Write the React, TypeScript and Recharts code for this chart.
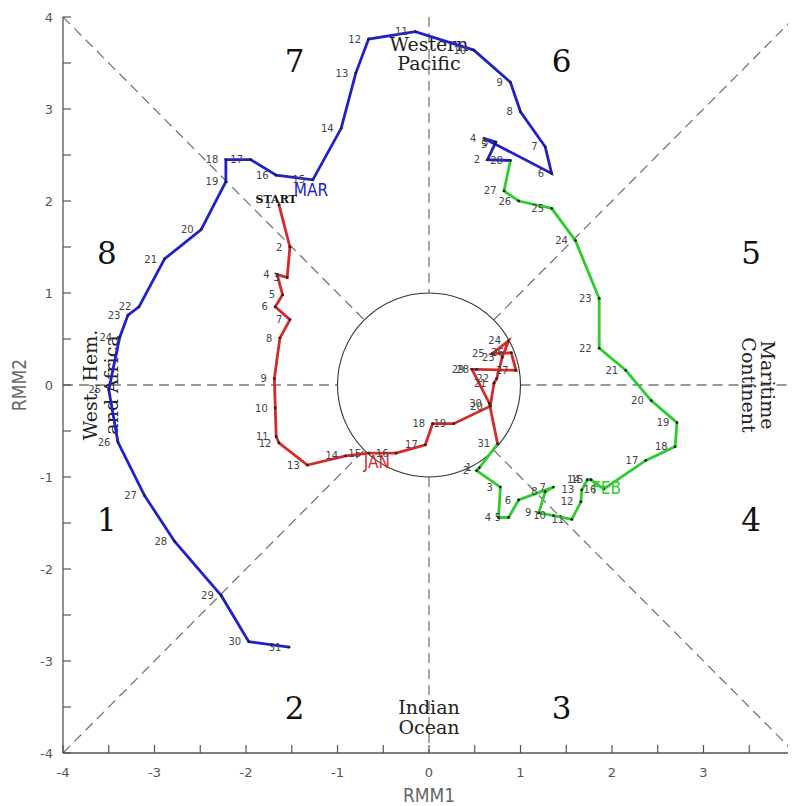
import React from "react";
import {
  ScatterChart,
  Scatter,
  XAxis,
  YAxis,
  ReferenceLine,
  ReferenceDot,
  LabelList,
} from "recharts";

// RMM1 / RMM2 daily values
const janRmm1 = [-1.64, -1.52, -1.55, -1.66, -1.6, -1.68, -1.52, -1.63, -1.69, -1.68, -1.67, -1.64, -1.33, -0.91, -0.66, -0.36, -0.04, 0.04, 0.27, 0.67, 0.71, 0.74, 0.8, 0.87, 0.69, 0.9, 0.95, 0.52, 0.47, 0.66, 0.75];
const janRmm2 = [1.96, 1.5, 1.17, 1.2, 0.98, 0.85, 0.71, 0.51, 0.07, -0.25, -0.56, -0.63, -0.87, -0.77, -0.74, -0.74, -0.65, -0.42, -0.42, -0.23, 0.02, 0.07, 0.3, 0.48, 0.34, 0.35, 0.16, 0.17, 0.17, -0.2, -0.64];

const febRmm1 = [0.55, 0.52, 0.78, 0.76, 0.87, 0.98, 1.36, 1.27, 1.2, 1.36, 1.56, 1.66, 1.67, 1.73, 1.77, 1.91, 2.37, 2.69, 2.71, 2.43, 2.15, 1.86, 1.86, 1.6, 1.34, 0.98, 0.82, 0.89];
const febRmm2 = [-0.9, -0.93, -1.11, -1.44, -1.44, -1.25, -1.11, -1.16, -1.39, -1.42, -1.46, -1.27, -1.14, -1.03, -1.03, -1.13, -0.82, -0.67, -0.41, -0.17, 0.16, 0.4, 0.94, 1.57, 1.92, 2.0, 2.11, 2.44];

const marRmm1 = [0.89, 0.64, 0.73, 0.6, 0.72, 1.34, 1.27, 1.0, 0.89, 0.49, -0.15, -0.66, -0.8, -0.96, -1.27, -1.67, -1.95, -2.22, -2.22, -2.49, -2.89, -3.17, -3.29, -3.38, -3.5, -3.4, -3.11, -2.78, -2.27, -1.97, -1.53];
const marRmm2 = [2.45, 2.45, 2.64, 2.68, 2.62, 2.3, 2.59, 2.97, 3.29, 3.64, 3.84, 3.76, 3.39, 2.79, 2.23, 2.28, 2.45, 2.45, 2.21, 1.69, 1.37, 0.85, 0.76, 0.52, -0.05, -0.62, -1.2, -1.7, -2.29, -2.79, -2.85];

const ticks = [-4, -3.5, -3, -2.5, -2, -1.5, -1, -0.5, 0, 0.5, 1, 1.5, 2, 2.5, 3, 3.5, 4];

const phaseNames = ["1", "2", "3", "4", "5", "6", "7", "8"];
const phaseX = [-3.52, -1.47, 1.45, 3.52, 3.52, 1.45, -1.47, -3.52];
const phaseY = [-1.47, -3.51, -3.51, -1.47, 1.44, 3.52, 3.52, 1.44];

const regionNames = ["Western", "Pacific", "Indian", "Ocean", "West. Hem.", "and Africa", "Maritime", "Continent"];
const regionX = [0, 0, 0, 0, -3.71, -3.47, 3.71, 3.5];
const regionY = [3.71, 3.5, -3.5, -3.72, 0, 0, 0, 0];
const regionRot = [0, 0, 0, 0, -90, -90, 90, 90];

const monthNames = ["JAN", "FEB", "MAR"];
const monthX = [-0.57, 1.94, -1.29];
const monthY = [-0.84, -1.12, 2.12];
const monthColors = ["#d42a2a", "#2ecc2e", "#2020cc"];

const guides = [
  [-4, -4, -0.707, -0.707],
  [0.707, 0.707, 4, 4],
  [-4, 4, -0.707, 0.707],
  [0.707, -0.707, 4, -4],
  [-4, 0, -1, 0],
  [1, 0, 4, 0],
  [0, 4, 0, 1],
  [0, -1, 0, -4],
];

const toRows = (xs: number[], ys: number[]) =>
  xs.map((x, i) => ({ x, y: ys[i], d: String(i + 1) }));

const jan = toRows(janRmm1, janRmm2);
// each month's track starts from the last day of the previous month (no label there)
const feb = [{ ...jan[jan.length - 1], d: "" }, ...toRows(febRmm1, febRmm2)];
const febRows = toRows(febRmm1, febRmm2);
const mar = [{ ...febRows[febRows.length - 1], d: "" }, ...toRows(marRmm1, marRmm2).slice(1)];

const phases = phaseNames.map((t, i) => ({ x: phaseX[i], y: phaseY[i], t }));
const regions = regionNames.map((t, i) => ({ x: regionX[i], y: regionY[i], t, r: regionRot[i] }));
const months = monthNames.map((t, i) => ({ x: monthX[i], y: monthY[i], t, c: monthColors[i] }));
const startMark = [{ x: -1.67, y: 2.02, t: "START" }];

const W = 788;
const H = 798;
const MARGIN = { top: 9, right: 1, bottom: 0, left: 0 };
const Y_W = 55;
const X_H = 53;
const PLOT_W = W - MARGIN.left - MARGIN.right - Y_W;
const PLOT_H = H - MARGIN.top - MARGIN.bottom - X_H;

const axisColor = "#555";
const TL = 8;

function BottomTick(p: any) {
  const v = p.payload.value;
  return (
    <g>
      <line x1={p.x} x2={p.x} y1={p.y} y2={p.y - TL} stroke={axisColor} strokeWidth={1.2} />
      {Number.isInteger(v) && (
        <text x={p.x} y={p.y + 19} textAnchor="middle" dominantBaseline="central" fill="#555" fontSize={13} fontFamily="DejaVu Sans">
          {v}
        </text>
      )}
    </g>
  );
}

function TopTick(p: any) {
  return <line x1={p.x} x2={p.x} y1={p.y} y2={p.y + TL} stroke={axisColor} strokeWidth={1.2} />;
}

function LeftTick(p: any) {
  const v = p.payload.value;
  return (
    <g>
      <line x1={p.x} x2={p.x + TL} y1={p.y} y2={p.y} stroke={axisColor} strokeWidth={1.2} />
      {Number.isInteger(v) && (
        <text x={p.x - 10} y={p.y} textAnchor="end" dominantBaseline="central" fill="#555" fontSize={13} fontFamily="DejaVu Sans">
          {v}
        </text>
      )}
    </g>
  );
}

function RightTick(p: any) {
  return <line x1={p.x} x2={p.x - TL} y1={p.y} y2={p.y} stroke={axisColor} strokeWidth={1.2} />;
}

const dot = (p: any) => (p.payload.d ? <circle cx={p.cx} cy={p.cy} r={1.4} fill="#222" /> : <g />);

const dayLabel = { fontSize: 10, fontFamily: "DejaVu Sans", fill: "#444" };

export default function App() {
  return (
    <div style={{ width: W, height: H, background: "#fff" }}>
      <ScatterChart width={W} height={H} margin={MARGIN}>
        <XAxis
          xAxisId={0}
          type="number"
          dataKey="x"
          domain={[-4, 4]}
          ticks={ticks}
          interval={0}
          allowDataOverflow
          height={X_H}
          tickSize={0}
          tickMargin={0}
          tickLine={false}
          axisLine={{ stroke: axisColor, strokeWidth: 1.3 }}
          tick={BottomTick}
          label={(pr: any) => {
            const vb = pr.viewBox || { x: Y_W, y: MARGIN.top + PLOT_H, width: PLOT_W, height: X_H };
            return (
              <text x={vb.x + vb.width / 2} y={vb.y + 42} textAnchor="middle" dominantBaseline="central" fill="#666" fontSize={19} fontFamily="DejaVu Sans Condensed">
                RMM1
              </text>
            );
          }}
        />
        <XAxis
          xAxisId="top"
          orientation="top"
          type="number"
          dataKey="x"
          domain={[-4, 4]}
          ticks={ticks}
          interval={0}
          allowDataOverflow
          height={0}
          tickSize={0}
          tickMargin={0}
          tickLine={false}
          axisLine={{ stroke: axisColor, strokeWidth: 1.3 }}
          tick={TopTick}
        />
        <YAxis
          yAxisId={0}
          type="number"
          dataKey="y"
          domain={[-4, 4]}
          ticks={ticks}
          interval={0}
          allowDataOverflow
          width={Y_W}
          tickSize={0}
          tickMargin={0}
          tickLine={false}
          axisLine={{ stroke: axisColor, strokeWidth: 1.3 }}
          tick={LeftTick}
          label={(pr: any) => {
            const vb = pr.viewBox || { x: 0, y: MARGIN.top, width: Y_W, height: PLOT_H };
            const cx = vb.x + 11;
            const cy = vb.y + vb.height / 2;
            return (
              <text x={cx} y={cy} transform={`rotate(-90 ${cx} ${cy})`} textAnchor="middle" dominantBaseline="central" fill="#666" fontSize={19} fontFamily="DejaVu Sans Condensed">
                RMM2
              </text>
            );
          }}
        />
        <YAxis
          yAxisId="right"
          orientation="right"
          type="number"
          dataKey="y"
          domain={[-4, 4]}
          ticks={ticks}
          interval={0}
          allowDataOverflow
          width={0}
          tickSize={0}
          tickMargin={0}
          tickLine={false}
          axisLine={{ stroke: axisColor, strokeWidth: 1.3 }}
          tick={RightTick}
        />

        {guides.map((g, i) => (
          <ReferenceLine
            key={i}
            segment={[{ x: g[0], y: g[1] }, { x: g[2], y: g[3] }]}
            stroke="#777"
            strokeWidth={1.3}
            strokeDasharray="10 6"
          />
        ))}
        <ReferenceDot
          x={0}
          y={0}
          r={1}
          shape={(p: any) => (
            <ellipse cx={p.cx} cy={p.cy} rx={PLOT_W / 8} ry={PLOT_H / 8} fill="none" stroke="#333" strokeWidth={1.1} />
          )}
        />

        <Scatter
          data={phases}
          isAnimationActive={false}
          shape={(p: any) => (
            <text x={p.cx} y={p.cy} textAnchor="middle" dominantBaseline="central" fontSize={31} fontFamily="DejaVu Serif" fill="#111">
              {p.payload.t}
            </text>
          )}
        />
        <Scatter
          data={regions}
          isAnimationActive={false}
          shape={(p: any) => (
            <text
              x={p.cx}
              y={p.cy}
              transform={`rotate(${p.payload.r} ${p.cx} ${p.cy})`}
              textAnchor="middle"
              dominantBaseline="central"
              fontSize={19}
              fontFamily="DejaVu Serif"
              fill="#222"
            >
              {p.payload.t}
            </text>
          )}
        />

        <Scatter data={mar} fill="#2020cc" isAnimationActive={false} line={{ stroke: "#2020cc", strokeWidth: 2.8 }} lineType="joint" shape={dot}>
          <LabelList dataKey="d" position="left" offset={3} style={dayLabel} />
        </Scatter>
        <Scatter data={feb} fill="#2ecc2e" isAnimationActive={false} line={{ stroke: "#2ecc2e", strokeWidth: 2.8 }} lineType="joint" shape={dot}>
          <LabelList dataKey="d" position="left" offset={3} style={dayLabel} />
        </Scatter>
        <Scatter data={jan} fill="#d42a2a" isAnimationActive={false} line={{ stroke: "#d42a2a", strokeWidth: 2.8 }} lineType="joint" shape={dot}>
          <LabelList dataKey="d" position="left" offset={3} style={dayLabel} />
        </Scatter>

        <Scatter
          data={months}
          isAnimationActive={false}
          shape={(p: any) => (
            <text x={p.cx} y={p.cy} textAnchor="middle" dominantBaseline="central" fontSize={17} fontFamily="DejaVu Sans Condensed" fill={p.payload.c}>
              {p.payload.t}
            </text>
          )}
        />
        <Scatter
          data={startMark}
          isAnimationActive={false}
          shape={(p: any) => (
            <text x={p.cx} y={p.cy} textAnchor="middle" dominantBaseline="central" fontSize={11} fontWeight="bold" fontFamily="DejaVu Serif" fill="#111">
              {p.payload.t}
            </text>
          )}
        />
      </ScatterChart>
    </div>
  );
}
